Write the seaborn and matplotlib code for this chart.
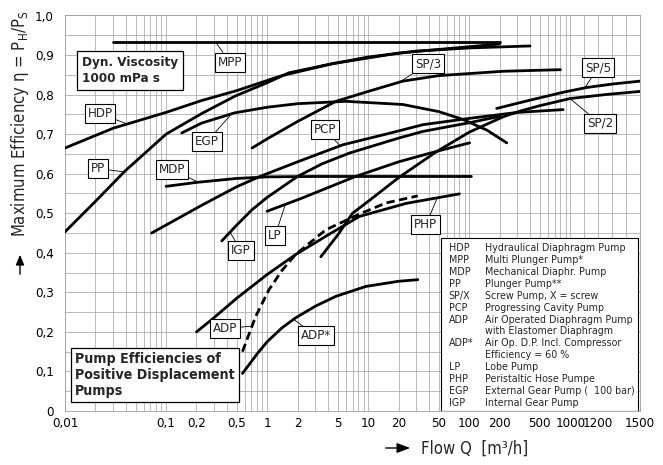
import numpy as np
import matplotlib
matplotlib.use("Agg")
import matplotlib.pyplot as plt
import seaborn as sns
from matplotlib import font_manager
from matplotlib.ticker import FixedLocator, FixedFormatter, MultipleLocator
from matplotlib.patches import Rectangle, FancyArrowPatch

# ---------------- data ----------------
hdp_x = [0.01, 0.03, 0.1, 0.225, 0.5, 1.4, 4.4, 10, 30, 100, 400]
hdp_y = [0.665, 0.715, 0.755, 0.785, 0.81, 0.848, 0.878, 0.895, 0.91, 0.918, 0.923]

pp_x = [0.01, 0.02, 0.039, 0.1, 0.225, 0.48, 1.0, 1.64, 4.4, 20, 200]
pp_y = [0.453, 0.53, 0.606, 0.70, 0.752, 0.796, 0.83, 0.855, 0.878, 0.905, 0.928]

mpp_x = [0.03, 200]
mpp_y = [0.932, 0.932]

sp3_x = [0.71, 1, 2, 4.8, 10, 22, 50, 218, 800]
sp3_y = [0.665, 0.688, 0.732, 0.783, 0.808, 0.834, 0.848, 0.859, 0.863]

egp_x = [0.143, 0.225, 0.48, 1, 2, 6, 22, 50, 87, 150, 235]
egp_y = [0.703, 0.728, 0.754, 0.768, 0.777, 0.783, 0.775, 0.757, 0.737, 0.71, 0.678]

mdp_x = [0.1, 0.2, 0.5, 1, 3, 105]
mdp_y = [0.568, 0.578, 0.588, 0.592, 0.593, 0.593]

pcp_x = [0.072, 0.225, 0.5, 0.85, 2, 5.6, 15, 35, 101, 300, 850]
pcp_y = [0.45, 0.52, 0.567, 0.593, 0.63, 0.673, 0.70, 0.724, 0.74, 0.755, 0.762]

igp_x = [0.356, 0.5, 0.71, 1, 2, 3.5, 6.5, 20, 35, 101, 200]
igp_y = [0.43, 0.47, 0.509, 0.54, 0.593, 0.625, 0.652, 0.69, 0.707, 0.729, 0.745]

lp_x = [1, 2.2, 7.5, 20, 50, 101]
lp_y = [0.505, 0.538, 0.593, 0.63, 0.658, 0.678]

sp2_x = [3.4, 5, 7, 10, 20, 47, 100, 217, 316, 500, 993, 1250, 1500]
sp2_y = [0.39, 0.445, 0.50, 0.53, 0.59, 0.655, 0.705, 0.744, 0.758, 0.772, 0.79, 0.80, 0.808]

sp5_x = [187, 400, 853, 1118, 1309, 1500]
sp5_y = [0.765, 0.786, 0.806, 0.818, 0.827, 0.834]

php_x = [0.2, 0.28, 0.5, 1, 1.9, 4, 8.2, 23.8, 80]
php_y = [0.2, 0.23, 0.285, 0.345, 0.395, 0.445, 0.492, 0.525, 0.549]

adp_x = [0.57, 0.77, 1.04, 1.4, 1.9, 3.8, 8.2, 15, 31]
adp_y = [0.15, 0.239, 0.306, 0.355, 0.395, 0.458, 0.498, 0.526, 0.544]

adps_x = [0.57, 0.8, 1.0, 1.4, 1.9, 3, 4.8, 9.5, 20, 31]
adps_y = [0.095, 0.145, 0.175, 0.21, 0.235, 0.265, 0.29, 0.315, 0.328, 0.332]

xtick_vals = [0.01, 0.1, 0.2, 0.5, 1, 2, 5, 10, 20, 50, 100, 200, 500, 1000, 1200, 1500]
xtick_labels = ["0,01", "0,1", "0,2", "0,5", "1", "2", "5", "10", "20", "50", "100",
                "200", "500", "1000", "1200", "1500"]
ytick_vals = [0, 0.1, 0.2, 0.3, 0.4, 0.5, 0.6, 0.7, 0.8, 0.9, 1.0]
ytick_labels = ["0", "0,1", "0,2", "0,3", "0,4", "0,5", "0,6", "0,7", "0,8", "0,9", "1,0"]

# curve labels: (text, point on curve, label centre)
curve_labels = [
    ("HDP", (0.042, 0.725), (0.0222, 0.752)),
    ("PP", (0.0375, 0.605), (0.0212, 0.613)),
    ("MPP", (0.31, 0.932), (0.43, 0.882)),
    ("EGP", (0.43, 0.747), (0.254, 0.681)),
    ("MDP", (0.207, 0.579), (0.115, 0.610)),
    ("PCP", (5.26, 0.671), (3.74, 0.711)),
    ("SP/3", (20.6, 0.832), (39, 0.878)),
    ("SP/5", (1106, 0.818), (1199, 0.868)),
    ("SP/2", (993, 0.79), (1213, 0.727)),
    ("PHP", (48, 0.537), (37.3, 0.471)),
    ("LP", (1.5, 0.519), (1.2, 0.443)),
    ("IGP", (0.43, 0.452), (0.552, 0.405)),
    ("ADP", (0.72, 0.215), (0.383, 0.208)),
    ("ADP*", (1.8, 0.233), (3.05, 0.190)),
]

leg_abbr = ["HDP", "MPP", "MDP", "PP", "SP/X", "PCP", "ADP", "", "ADP*", "", "LP", "PHP", "EGP", "IGP"]
leg_desc = ["Hydraulical Diaphragm Pump", "Multi Plunger Pump*", "Mechanical Diaphr. Pump",
            "Plunger Pump**", "Screw Pump, X = screw", "Progressing Cavity Pump",
            "Air Operated Diaphragm Pump", "with Elastomer Diaphragm",
            "Air Op. D.P. Incl. Compressor", "Efficiency = 60 %", "Lobe Pump",
            "Peristaltic Hose Pumpe", "External Gear Pump (  100 bar)", "Internal Gear Pump"]

# ---------------- style ----------------
sns.set_theme(style="white")

COND_STRETCH = ("condensed", "semi-condensed", "extra-condensed", "ultra-condensed")


def pick_condensed():
    ents = font_manager.fontManager.ttflist

    def is_cond(f):
        st = f.stretch
        if isinstance(st, (int, float)):
            cond = st < 500
        else:
            cond = str(st) in COND_STRETCH
        return cond or "Narrow" in f.name or "Condensed" in f.name

    conds = [f for f in ents if is_cond(f) and f.style == "normal"]
    prefs = ["Liberation Sans Narrow", "DejaVu Sans Condensed", "DejaVu Sans",
             "Roboto Condensed", "Roboto", "Noto Sans", "Open Sans Condensed", "Open Sans"]
    for p in prefs:
        for f in conds:
            if f.name == p:
                return f.name, f.stretch
    if conds:
        return conds[0].name, conds[0].stretch
    return None


found = pick_condensed()
if found:
    FAM, STRETCH = found
    SC = 1.0
else:
    FAM, STRETCH = "Liberation Sans", "normal"
    SC = 0.86
plt.rcParams["font.family"] = [FAM, "DejaVu Sans"]
plt.rcParams["font.stretch"] = STRETCH

K = 0.00138  # stretched section of the axis beyond 1000


def fwd(x):
    x = np.asarray(x, dtype=float)
    xc = np.clip(x, 1e-12, None)
    return np.where(x <= 1000, np.log10(xc), 3 + (x - 1000) * K)


def inv(y):
    y = np.asarray(y, dtype=float)
    return np.where(y <= 3, 10 ** np.minimum(y, 3), 1000 + (y - 3) / K)


fig = plt.figure(figsize=(6.63, 4.65), dpi=100)
ax = fig.add_axes([65 / 663, (465 - 411) / 465, 575 / 663, 395.5 / 465])

solid = [(hdp_x, hdp_y), (pp_x, pp_y), (mpp_x, mpp_y), (sp3_x, sp3_y), (egp_x, egp_y),
         (mdp_x, mdp_y), (pcp_x, pcp_y), (igp_x, igp_y), (lp_x, lp_y), (sp2_x, sp2_y),
         (sp5_x, sp5_y), (php_x, php_y), (adps_x, adps_y)]
for xs, ys in solid:
    sns.lineplot(x=xs, y=ys, ax=ax, color="black", linewidth=2.0, estimator=None,
                 sort=False, zorder=3)
sns.lineplot(x=adp_x, y=adp_y, ax=ax, color="black", linewidth=2.0, estimator=None,
             sort=False, linestyle=(0, (3, 1.6)), zorder=3)

ax.set_xscale("function", functions=(fwd, inv))
ax.set_xlim(0.01, 1500)
ax.set_ylim(0, 1.0)

minor_x = [m * 10.0 ** e for e in range(-2, 3) for m in range(2, 10)] + [1100, 1300, 1400]
ax.xaxis.set_major_locator(FixedLocator(xtick_vals))
ax.xaxis.set_major_formatter(FixedFormatter(xtick_labels))
ax.xaxis.set_minor_locator(FixedLocator(minor_x))
ax.yaxis.set_major_locator(FixedLocator(ytick_vals))
ax.yaxis.set_major_formatter(FixedFormatter(ytick_labels))
ax.yaxis.set_minor_locator(MultipleLocator(0.05))

ax.grid(which="both", color="#a0a0a0", linewidth=0.5)
ax.set_axisbelow(True)
ax.tick_params(which="both", length=0, labelsize=9.5 * SC, colors="black")
ax.tick_params(axis="x", pad=4)
ax.tick_params(axis="y", pad=8)
for s in ax.spines.values():
    s.set_color("#a0a0a0")
    s.set_linewidth(0.6)

# curve labels
for txt, pt, lab in curve_labels:
    ax.annotate(txt, xy=pt, xytext=lab, ha="center", va="center", fontsize=9.5 * SC, zorder=6,
                bbox=dict(boxstyle="square,pad=0.22", fc="white", ec="black", lw=0.8),
                arrowprops=dict(arrowstyle="-", color="black", lw=0.6, shrinkA=0, shrinkB=0))

# info boxes
ax.text(0.0296, 0.898, "Dyn. Viscosity\n1000 mPa s", transform=ax.transAxes, fontsize=9.6 * SC,
        fontweight="bold", ha="left", va="top", linespacing=1.3, zorder=6,
        bbox=dict(boxstyle="square,pad=0.35", fc="white", ec="black", lw=0.9))
ax.text(0.0174, 0.148, "Pump Efficiencies of\nPositive Displacement\nPumps", transform=ax.transAxes,
        fontsize=10.2 * SC, fontweight="bold", ha="left", va="top", linespacing=1.15, zorder=6,
        bbox=dict(boxstyle="square,pad=0.3", fc="white", ec="black", lw=0.9))

# legend block
ax.add_patch(Rectangle((0.654, 0.0), 0.343, 0.437, transform=ax.transAxes, fc="white",
                       ec="black", lw=0.8, zorder=5))
for i, (a, d) in enumerate(zip(leg_abbr, leg_desc)):
    yy = 0.4114 - i * 0.03004
    ax.text(0.667, yy, a, transform=ax.transAxes, fontsize=7.7 * SC, ha="left", va="center", zorder=6)
    ax.text(0.730, yy, d, transform=ax.transAxes, fontsize=7.7 * SC, ha="left", va="center", zorder=6)

# axis titles with arrows
ax.set_ylabel(r"Maximum Efficiency η = P$_{\mathregular{H}}$/P$_{\mathregular{S}}$", fontsize=12 * SC)
ax.yaxis.set_label_coords(-0.059, 0.726)
ax.set_xlabel("Flow Q  [m³/h]", fontsize=12 * SC)
ax.xaxis.set_label_coords(0.713, -0.073)

fig.add_artist(FancyArrowPatch(
    (20, 465 - 277), (20, 465 - 252), transform=None, arrowstyle="-|>,head_length=6,head_width=2.5",
    color="black", lw=1.0, mutation_scale=1))
fig.add_artist(FancyArrowPatch(
    (383, 465 - 448), (413, 465 - 448), transform=None, arrowstyle="-|>,head_length=8,head_width=3",
    color="black", lw=1.0, mutation_scale=1))

fig.savefig("out.png", dpi=100)
